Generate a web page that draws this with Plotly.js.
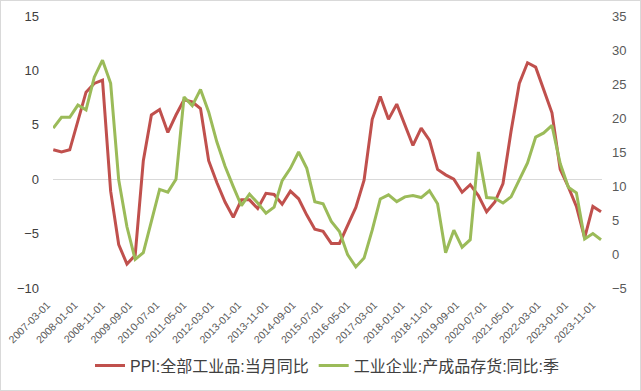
<!DOCTYPE html>
<html>
<head>
<meta charset="utf-8">
<script src="https://cdn.plot.ly/plotly-3.0.1.min.js"></script>
<style>
  html, body { margin: 0; padding: 0; background: #fff; }
  #chart { width: 641px; height: 391px; box-sizing: border-box; border: 1px solid #d9d9d9; }
</style>
</head>
<body>
<div id="chart"></div>
<script>
// Quarterly observation dates
const dates = [
  "2007-03-01","2007-06-01","2007-09-01","2007-12-01",
  "2008-03-01","2008-06-01","2008-09-01","2008-12-01",
  "2009-03-01","2009-06-01","2009-09-01","2009-12-01",
  "2010-03-01","2010-06-01","2010-09-01","2010-12-01",
  "2011-03-01","2011-06-01","2011-09-01","2011-12-01",
  "2012-03-01","2012-06-01","2012-09-01","2012-12-01",
  "2013-03-01","2013-06-01","2013-09-01","2013-12-01",
  "2014-03-01","2014-06-01","2014-09-01","2014-12-01",
  "2015-03-01","2015-06-01","2015-09-01","2015-12-01",
  "2016-03-01","2016-06-01","2016-09-01","2016-12-01",
  "2017-03-01","2017-06-01","2017-09-01","2017-12-01",
  "2018-03-01","2018-06-01","2018-09-01","2018-12-01",
  "2019-03-01","2019-06-01","2019-09-01","2019-12-01",
  "2020-03-01","2020-06-01","2020-09-01","2020-12-01",
  "2021-03-01","2021-06-01","2021-09-01","2021-12-01",
  "2022-03-01","2022-06-01","2022-09-01","2022-12-01",
  "2023-03-01","2023-06-01","2023-09-01","2023-12-01"
];

// PPI:全部工业品:当月同比 (left axis, %)
const ppi = [
  2.7, 2.5, 2.7, 5.4, 8.0, 8.8, 9.1, -1.1, -6.0, -7.8,
  -7.0, 1.7, 5.9, 6.4, 4.3, 5.9, 7.3, 7.1, 6.5, 1.7,
  -0.3, -2.1, -3.5, -1.9, -1.9, -2.7, -1.3, -1.4, -2.3, -1.1,
  -1.8, -3.3, -4.6, -4.8, -5.9, -5.9, -4.3, -2.6, -0.1, 5.5,
  7.6, 5.5, 6.9, 4.9, 3.1, 4.7, 3.6, 0.9, 0.4, 0.0,
  -1.2, -0.5, -1.5, -3.0, -2.1, -0.4, 4.4, 8.8, 10.7, 10.3,
  8.3, 6.1, 0.9, -0.7, -2.5, -5.4, -2.5, -3.0
];

// 工业企业:产成品存货:同比:季 (right axis, %)
const inventory = [
  18.5, 20.1, 20.1, 21.9, 21.2, 26.0, 28.5, 25.1, 10.9, 4.0,
  -0.8, 0.2, 4.8, 9.5, 9.1, 11.0, 23.1, 21.8, 24.2, 20.9,
  16.5, 12.9, 9.9, 7.1, 8.8, 7.5, 6.0, 6.9, 10.8, 12.6,
  15.0, 12.6, 7.7, 7.4, 4.8, 3.3, -0.1, -1.9, -0.6, 3.5,
  8.1, 8.7, 7.7, 8.4, 8.6, 8.3, 9.3, 7.4, 0.2, 3.5,
  1.0, 2.1, 15.0, 8.3, 8.2, 7.5, 8.4, 10.9, 13.4, 17.2,
  17.8, 18.9, 13.3, 9.8, 9.0, 2.2, 3.0, 2.1
];

// X-axis tick labels
const tickLabels = [
  "2007-03-01","2008-01-01","2008-11-01","2009-09-01","2010-07-01",
  "2011-05-01","2012-03-01","2013-01-01","2013-11-01","2014-09-01",
  "2015-07-01","2016-05-01","2017-03-01","2018-01-01","2018-11-01",
  "2019-09-01","2020-07-01","2021-05-01","2022-03-01","2023-01-01",
  "2023-11-01"
];

const seriesNames = ["PPI:全部工业品:当月同比", "工业企业:产成品存货:同比:季"];

const traces = [
  {
    x: dates, y: ppi, name: seriesNames[0], type: "scatter", mode: "lines",
    line: { color: "#C0504D", width: 3 }, yaxis: "y", hoverinfo: "skip"
  },
  {
    x: dates, y: inventory, name: seriesNames[1], type: "scatter", mode: "lines",
    line: { color: "#9BBB59", width: 3 }, yaxis: "y2", hoverinfo: "skip"
  }
];

const tickFontFamily = "Liberation Sans, Arial, sans-serif";

const layout = {
  width: 639, height: 389,
  margin: { l: 52, r: 38, t: 15, b: 102, autoexpand: false },
  paper_bgcolor: "#ffffff", plot_bgcolor: "#ffffff",
  showlegend: true,
  legend: {
    orientation: "h", x: 0.5, xanchor: "center", y: -0.285, yanchor: "middle",
    font: { family: "Liberation Sans, Noto Sans CJK SC, sans-serif", size: 16, color: "#404040" },
    itemwidth: 30
  },
  xaxis: {
    type: "date",
    range: ["2007-02-26", "2023-12-12"],
    tickvals: tickLabels, ticktext: tickLabels,
    tickangle: -45,
    tickfont: { family: tickFontFamily, size: 10.5, color: "#595959" },
    showgrid: false, zeroline: false, showline: false, ticks: "",
    ticklabelstandoff: 8,
    ticklabelshift: -6,
    automargin: false
  },
  yaxis: {
    range: [-10, 15], dtick: 5, tick0: 0,
    tickfont: { family: tickFontFamily, size: 13, color: "#404040" },
    showgrid: false, showline: false, ticks: "",
    zeroline: true, zerolinecolor: "#d9d9d9", zerolinewidth: 1,
    ticklabelstandoff: 13, automargin: false
  },
  yaxis2: {
    range: [-5, 35], dtick: 5, tick0: 0,
    overlaying: "y", side: "right",
    tickfont: { family: tickFontFamily, size: 13, color: "#595959" },
    showgrid: false, showline: false, zeroline: false, ticks: "",
    ticklabelstandoff: 9, automargin: false
  }
};

Plotly.newPlot("chart", traces, layout, { staticPlot: true, displayModeBar: false });
</script>
</body>
</html>
